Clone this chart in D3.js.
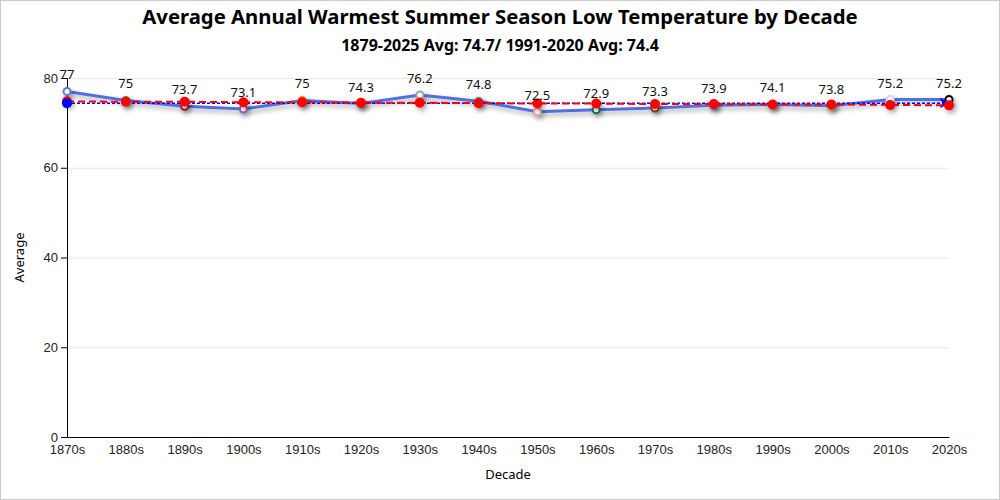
<!DOCTYPE html>
<html>
<head>
<meta charset="utf-8">
<script src="https://cdn.jsdelivr.net/npm/d3@7"></script>
<style>
  html, body { margin: 0; padding: 0; background: #fff; }
  svg { display: block; font-family: "Noto Sans", "Open Sans", sans-serif; }
  .axis text { font-size: 13px; fill: #222; }
  .axis path, .axis line { stroke: #000; }
  .grid line { stroke: #e8e8e8; }
</style>
</head>
<body>
<div id="chart"></div>
<script>
// Decades on the x axis
const decades = ['1870s', '1880s', '1890s', '1900s', '1910s', '1920s', '1930s', '1940s',
  '1950s', '1960s', '1970s', '1980s', '1990s', '2000s', '2010s', '2020s'];

// Average warmest summer season low per decade
const averages = [77, 75, 73.7, 73.1, 75, 74.3, 76.2, 74.8, 72.5, 72.9, 73.3, 73.9, 74.1, 73.8, 75.2, 75.2];

// Trend line values (red dashed)
const trendValues = [74.8, 74.7, 74.7, 74.6, 74.6, 74.5, 74.5, 74.4, 74.3, 74.3, 74.2, 74.2, 74.1, 74.1, 74.0, 73.9];

// 1991-2020 normal (blue dotted line)
const normalValue = 74.4;

// marker outline colours per decade
const markerColors = ['#5b7fd6', '#3aa655', '#a3193c', '#9b59b6', '#f39c12', '#2e7d6b', '#a0a0a0', '#3c9ca0',
  '#e8a2ad', '#1f6b63', '#8b4513', '#4a5ac8', '#4a5ac8', '#d49a1a', '#d6d6f2', '#000000'];

const yTicks = [0, 20, 40, 60, 80];

const W = 1000, H = 500;
const margin = { top: 78, right: 51, bottom: 63, left: 67 };
const width = W - margin.left - margin.right;
const height = H - margin.top - margin.bottom;

const svg = d3.select('#chart').append('svg')
  .attr('width', W)
  .attr('height', H);

// outer border
svg.append('rect')
  .attr('x', 0.5).attr('y', 0.5)
  .attr('width', W - 1).attr('height', H - 1)
  .attr('fill', '#fff')
  .attr('stroke', '#ccc');

const defs = svg.append('defs');
const shadow = defs.append('filter')
  .attr('id', 'shadow')
  .attr('x', '-50%').attr('y', '-50%')
  .attr('width', '200%').attr('height', '200%');
shadow.append('feDropShadow')
  .attr('dx', 2).attr('dy', 3)
  .attr('stdDeviation', 2.5)
  .attr('flood-color', '#000')
  .attr('flood-opacity', 0.35);

defs.append('marker')
  .attr('id', 'arrow')
  .attr('viewBox', '0 0 10 10')
  .attr('refX', 9).attr('refY', 5)
  .attr('markerWidth', 7).attr('markerHeight', 7)
  .attr('markerUnits', 'strokeWidth')
  .attr('orient', 'auto')
  .append('path')
  .attr('d', 'M0,0 L10,5 L0,10 L3,5 Z')
  .attr('fill', '#0000ff');

// title
svg.append('text')
  .attr('x', W / 2).attr('y', 24)
  .attr('text-anchor', 'middle')
  .style('font-size', '20.3px')
  .style('font-weight', 'bold')
  .text('Average Annual Warmest Summer Season Low Temperature by Decade');

svg.append('text')
  .attr('x', W / 2).attr('y', 51)
  .attr('text-anchor', 'middle')
  .style('font-size', '16px')
  .style('font-weight', 'bold')
  .text('1879-2025 Avg: 74.7/ 1991-2020 Avg: 74.4');

const g = svg.append('g')
  .attr('transform', `translate(${margin.left},${margin.top})`);

const x = d3.scalePoint()
  .domain(decades)
  .range([0, width]);

const y = d3.scaleLinear()
  .domain([0, 80])
  .range([height, 0]);

// gridlines
g.append('g')
  .attr('class', 'grid')
  .call(d3.axisLeft(y).tickValues(yTicks).tickSize(-width).tickFormat(''))
  .call(s => s.select('.domain').remove());

// axes
g.append('g')
  .attr('class', 'axis')
  .attr('transform', `translate(0,${height})`)
  .call(d3.axisBottom(x).tickSize(0).tickPadding(8));

g.append('g')
  .attr('class', 'axis')
  .call(d3.axisLeft(y).tickValues(yTicks).tickSize(6).tickPadding(3));

// axis titles
g.append('text')
  .attr('x', width / 2)
  .attr('y', height + 42)
  .attr('text-anchor', 'middle')
  .style('font-size', '13px')
  .text('Decade');

g.append('text')
  .attr('transform', 'rotate(-90)')
  .attr('x', -height / 2)
  .attr('y', -43)
  .attr('text-anchor', 'middle')
  .style('font-size', '13px')
  .text('Average');

// data line
const line = d3.line()
  .x((d, i) => x(decades[i]))
  .y(d => y(d));

g.append('path')
  .datum(averages)
  .attr('fill', 'none')
  .attr('stroke', '#4f6fe0')
  .attr('stroke-width', 3)
  .attr('filter', 'url(#shadow)')
  .attr('d', line);

// data markers
g.append('g')
  .attr('filter', 'url(#shadow)')
  .selectAll('circle')
  .data(averages)
  .join('circle')
  .attr('cx', (d, i) => x(decades[i]))
  .attr('cy', d => y(d))
  .attr('r', 3.5)
  .attr('fill', '#fff')
  .attr('stroke', (d, i) => markerColors[i])
  .attr('stroke-width', 2);

// 1991-2020 normal line
g.append('line')
  .attr('x1', x(decades[0]))
  .attr('x2', x(decades[decades.length - 1]))
  .attr('y1', y(normalValue))
  .attr('y2', y(normalValue))
  .attr('stroke', '#0000ff')
  .attr('stroke-width', 1.5)
  .attr('stroke-dasharray', '3,2')
  .attr('marker-end', 'url(#arrow)');

// trend line
g.append('path')
  .datum(trendValues)
  .attr('fill', 'none')
  .attr('stroke', '#ff0000')
  .attr('stroke-width', 2)
  .attr('stroke-dasharray', '7,4')
  .attr('d', line);

g.append('g')
  .attr('filter', 'url(#shadow)')
  .selectAll('circle')
  .data(trendValues)
  .join('circle')
  .attr('cx', (d, i) => x(decades[i]))
  .attr('cy', d => y(d))
  .attr('r', 5)
  .attr('fill', '#ff0000');

// normal start dot
g.append('circle')
  .attr('cx', x(decades[0]))
  .attr('cy', y(normalValue))
  .attr('r', 5)
  .attr('fill', '#0000ff');

// value labels
g.append('g')
  .selectAll('text')
  .data(averages)
  .join('text')
  .attr('x', (d, i) => x(decades[i]))
  .attr('y', d => y(d) - 12)
  .attr('text-anchor', 'middle')
  .style('font-size', '13px')
  .attr('fill', '#111')
  .text(d => d);
</script>
</body>
</html>
